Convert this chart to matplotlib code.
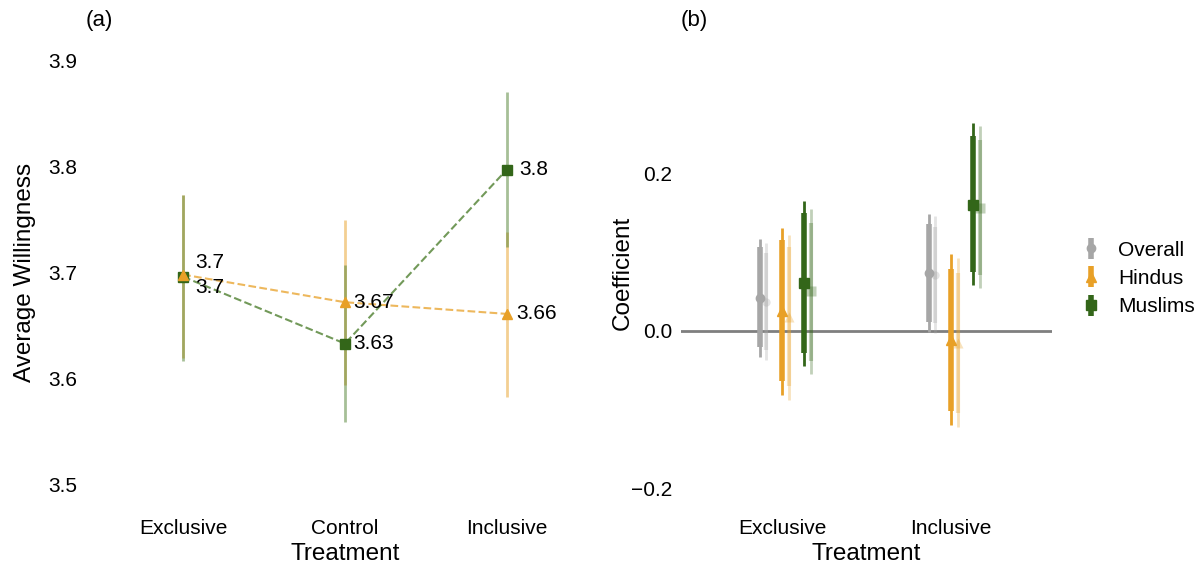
import matplotlib
matplotlib.use("Agg")
import matplotlib.pyplot as plt
import numpy as np

plt.rcParams['font.family'] = ['Liberation Sans', 'DejaVu Sans']

# (a) average willingness by treatment
treatments = ['Exclusive', 'Control', 'Inclusive']
hindu_mean = [3.698, 3.672, 3.661]
hindu_lo = [3.619, 3.594, 3.583]
hindu_hi = [3.773, 3.749, 3.738]
muslim_mean = [3.696, 3.633, 3.797]
muslim_lo = [3.617, 3.559, 3.724]
muslim_hi = [3.773, 3.707, 3.870]

# (b) regression coefficients vs control
groups = ['Exclusive', 'Inclusive']
series = ['Overall', 'Hindus', 'Muslims']
coef = {
    'Overall': [0.042, 0.073],
    'Hindus': [0.025, -0.011],
    'Muslims': [0.061, 0.160],
}
ci90 = {
    'Overall': ([-0.020, 0.011], [0.106, 0.135]),
    'Hindus': ([-0.063, -0.101], [0.115, 0.079]),
    'Muslims': ([-0.028, 0.075], [0.149, 0.247]),
}
ci95 = {
    'Overall': ([-0.033, -0.001], [0.117, 0.148]),
    'Hindus': ([-0.081, -0.119], [0.131, 0.097]),
    'Muslims': ([-0.044, 0.058], [0.165, 0.263]),
}
# model with controls (faded)
coef_c = {
    'Overall': [0.037, 0.071],
    'Hindus': [0.018, -0.015],
    'Muslims': [0.050, 0.156],
}
ci90_c = {
    'Overall': ([-0.024, 0.010], [0.099, 0.132]),
    'Hindus': ([-0.070, -0.104], [0.106, 0.074]),
    'Muslims': ([-0.038, 0.071], [0.137, 0.242]),
}
ci95_c = {
    'Overall': ([-0.037, -0.002], [0.111, 0.146]),
    'Hindus': ([-0.087, -0.122], [0.122, 0.092]),
    'Muslims': ([-0.055, 0.054], [0.155, 0.259]),
}

grey = '#a6a6a6'
orange = '#e8a027'
green = '#336619'
colors = {'Overall': grey, 'Hindus': orange, 'Muslims': green}
markers = {'Overall': 'o', 'Hindus': '^', 'Muslims': 's'}
msize = {'Overall': 6, 'Hindus': 7.5, 'Muslims': 7}

fig = plt.figure(figsize=(11.99, 5.65), dpi=100)
ax1 = fig.add_axes([86 / 1199, 60 / 565, 518 / 1199, 465 / 565])
ax2 = fig.add_axes([680.6 / 1199, 60 / 565, 371.8 / 1199, 465 / 565])

for ax in (ax1, ax2):
    for s in ax.spines.values():
        s.set_visible(False)
    ax.tick_params(length=0, labelsize=15)
    ax.tick_params(axis='x', pad=10)
    ax.tick_params(axis='y', pad=6)

# ---- panel (a)
x = np.arange(len(treatments))
ax1.vlines(x, hindu_lo, hindu_hi, color=orange, lw=2, alpha=0.5)
ax1.vlines(x, muslim_lo, muslim_hi, color='#4f8030', lw=2, alpha=0.5)
ax1.plot(x, hindu_mean, '--', color=orange, alpha=0.75, lw=1.5, zorder=2)
ax1.plot(x, muslim_mean, '--', color='#4f8030', alpha=0.8, lw=1.5, zorder=2)
ax1.plot(x, muslim_mean, 's', color=green, ms=7, zorder=3)
ax1.plot(x, hindu_mean, '^', color=orange, ms=7.5, zorder=4)

hindu_off = [(9, 9), (6, 0), (7, 0)]
muslim_off = [(9, -8), (6, 0), (9, 0)]
for i in range(len(treatments)):
    ax1.annotate(f"{round(hindu_mean[i], 2):g}", (x[i], hindu_mean[i]),
                 xytext=hindu_off[i], textcoords='offset points',
                 fontsize=15, va='center', ha='left')
    ax1.annotate(f"{round(muslim_mean[i], 2):g}", (x[i], muslim_mean[i]),
                 xytext=muslim_off[i], textcoords='offset points',
                 fontsize=15, va='center', ha='left')

ax1.set_xticks(x)
ax1.set_xticklabels(treatments)
ax1.set_xlim(-0.6, 2.6)
ax1.set_ylim(3.481, 3.919)
ax1.set_yticks([3.5, 3.6, 3.7, 3.8, 3.9])
ax1.set_xlabel('Treatment', fontsize=17.5, labelpad=4)
ax1.set_ylabel('Average Willingness', fontsize=17.5)
ax1.yaxis.set_label_coords((36 - 86) / 518, 0.5)
ax1.set_title('(a)', loc='left', fontsize=16, pad=10)

# ---- panel (b)
g = np.arange(len(groups))
dodge = {'Overall': -0.133, 'Hindus': 0.0, 'Muslims': 0.133}
shift = 0.041
ax2.axhline(0, color='#7f7f7f', lw=2, zorder=0)

handles = []
for s in series:
    c = colors[s]
    # faded: with controls
    xc = g + dodge[s] + shift
    ax2.vlines(xc, ci95_c[s][0], ci95_c[s][1], color=c, lw=2, alpha=0.3)
    ax2.vlines(xc, ci90_c[s][0], ci90_c[s][1], color=c, lw=3, alpha=0.3)
    ax2.plot(xc, coef_c[s], markers[s], color=c, ms=msize[s], alpha=0.3,
             mec='none')
    # solid: without controls
    xs = g + dodge[s]
    ax2.vlines(xs, ci95[s][0], ci95[s][1], color=c, lw=2)
    lo90 = np.array(coef[s]) - np.array(ci90[s][0])
    hi90 = np.array(ci90[s][1]) - np.array(coef[s])
    h = ax2.errorbar(xs, coef[s], yerr=[lo90, hi90], fmt=markers[s], color=c,
                     ms=msize[s], elinewidth=4, capsize=0, label=s, zorder=3)
    handles.append(h)

ax2.set_xticks(g)
ax2.set_xticklabels(groups)
ax2.set_xlim(-0.6, 1.6)
ax2.set_ylim(-0.2203, 0.3684)
ax2.set_yticks([-0.2, 0.0, 0.2])
ax2.set_xlabel('Treatment', fontsize=17.5, labelpad=4)
ax2.set_ylabel('Coefficient', fontsize=17.5)
ax2.yaxis.set_label_coords((634 - 680.6) / 371.8, 0.5)
ax2.set_title('(b)', loc='left', fontsize=16, pad=10)

ax2.legend(handles=handles, labels=series, loc='center left',
           bbox_to_anchor=(1.06, 0.487), frameon=False, fontsize=15,
           handlelength=0.8, handletextpad=0.9, labelspacing=0.45,
           borderaxespad=0)

fig.savefig('out.png', dpi=100)
